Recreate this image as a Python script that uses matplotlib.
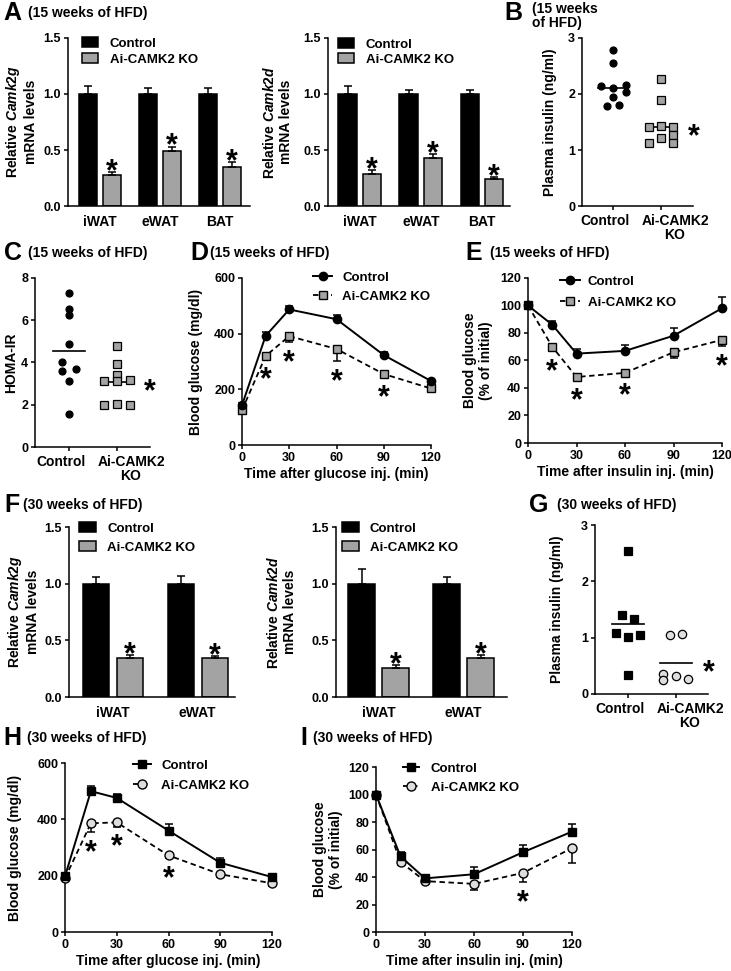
import numpy as np
import matplotlib
matplotlib.use("Agg")
import matplotlib.pyplot as plt
import matplotlib.transforms as mtransforms

plt.rcParams["font.family"] = ["Liberation Sans", "DejaVu Sans"]
plt.rcParams["font.weight"] = "bold"
plt.rcParams["axes.labelweight"] = "bold"
plt.rcParams["mathtext.fontset"] = "custom"
plt.rcParams["mathtext.rm"] = "Liberation Sans:bold"
plt.rcParams["mathtext.it"] = "Liberation Sans:italic:bold"
plt.rcParams["mathtext.bf"] = "Liberation Sans:bold"

W, H, DPI = 731, 971, 100
GRAY = "#a3a3a3"
LIGHT = "#dedede"

# ---------------- data ----------------
tissues_15 = ["iWAT", "eWAT", "BAT"]
camk2g_ctrl_15 = [1.0, 1.0, 1.0]
camk2g_ctrl_15_err = [0.07, 0.05, 0.05]
camk2g_ko_15 = [0.28, 0.49, 0.35]
camk2g_ko_15_err = [0.02, 0.04, 0.04]
camk2d_ctrl_15 = [1.0, 1.0, 1.0]
camk2d_ctrl_15_err = [0.07, 0.04, 0.04]
camk2d_ko_15 = [0.29, 0.43, 0.24]
camk2d_ko_15_err = [0.03, 0.03, 0.02]

# dot plots: values + column slot of each dot
insulin_ctrl_15 = [2.78, 2.56, 2.15, 2.11, 2.16, 2.03, 1.95, 1.79, 1.81]
insulin_ctrl_15_slot = [0, 0, -2, 0, 2, 2, 0, -1, 1]
insulin_ko_15 = [2.27, 1.90, 1.41, 1.43, 1.41, 1.27, 1.13, 1.21, 1.13]
insulin_ko_15_slot = [0, 0, -2, 0, 2, 2, -2, 0, 2]

homa_ctrl = [7.27, 6.55, 6.24, 4.89, 4.03, 3.62, 3.70, 3.14, 1.56]
homa_ctrl_slot = [0, 0, 0, 0, -1, -1, 1, 0, 0]
homa_ko = [4.78, 3.94, 3.40, 3.11, 3.11, 3.19, 2.00, 2.05, 2.00]
homa_ko_slot = [0, 0, 0, -2, 0, 2, -2, 0, 2]

time_min = [0, 15, 30, 60, 90, 120]
gtt15_ctrl = [143, 392, 487, 452, 323, 230]
gtt15_ctrl_err = [8, 14, 12, 14, 10, 7]
gtt15_ko = [125, 320, 391, 345, 255, 203]
gtt15_ko_err = [8, 12, 20, 45, 10, 8]
gtt15_sig = [15, 30, 60, 90]

itt15_ctrl = [100, 86, 65, 67, 78, 98]
itt15_ctrl_err = [0, 2.4, 3.6, 4.4, 5.3, 8]
itt15_ko = [100, 70, 48, 51, 66, 75]
itt15_ko_err = [0, 3, 2, 2, 4.4, 4.8]
itt15_sig = [15, 30, 60, 120]

tissues_30 = ["iWAT", "eWAT"]
camk2g_ctrl_30 = [1.0, 1.0]
camk2g_ctrl_30_err = [0.06, 0.07]
camk2g_ko_30 = [0.34, 0.34]
camk2g_ko_30_err = [0.03, 0.02]
camk2d_ctrl_30 = [1.0, 1.0]
camk2d_ctrl_30_err = [0.13, 0.06]
camk2d_ko_30 = [0.26, 0.34]
camk2d_ko_30_err = [0.02, 0.03]

insulin_ctrl_30 = [2.53, 1.40, 1.33, 1.08, 1.02, 1.05, 0.33]
insulin_ctrl_30_slot = [0, -1, 1, -2, 0, 2, 0]
insulin_ko_30 = [1.05, 1.06, 0.35, 0.24, 0.32, 0.26]
insulin_ko_30_slot = [-1, 1, -2, -2, 0, 2]

gtt30_ctrl = [198, 500, 476, 360, 246, 195]
gtt30_ctrl_err = [8, 20, 15, 24, 15, 8]
gtt30_ko = [191, 386, 389, 272, 205, 173]
gtt30_ko_err = [8, 30, 15, 10, 8, 8]
gtt30_sig = [15, 30, 60]

itt30_ctrl = [100, 55, 39, 42, 58, 73]
itt30_ctrl_err = [0, 3, 2, 5, 5, 5.5]
itt30_ko = [100, 51, 37, 35, 43, 61]
itt30_ko_err = [0, 2.4, 1, 4.5, 6.5, 10.5]
itt30_sig = [90]

group_labels = ["Control", "Ai-CAMK2\nKO"]

# ---------------- helpers ----------------
fig = plt.figure(figsize=(W / DPI, H / DPI), dpi=DPI)


def add_ax(l, t, r, b):
    ax = fig.add_axes([l / W, 1 - b / H, (r - l) / W, (b - t) / H])
    for s in ("top", "right"):
        ax.spines[s].set_visible(False)
    for s in ("left", "bottom"):
        ax.spines[s].set_linewidth(1.1)
    ax.tick_params(width=1.1, length=3, labelsize=9, pad=2)
    return ax


def ylab(ax, text, x_px):
    ax.set_ylabel(text, fontsize=10)
    tr = mtransforms.blended_transform_factory(fig.transFigure, ax.transAxes)
    ax.yaxis.set_label_coords(x_px / W, 0.5, transform=tr)


STAR_FS = 22


def star(ax, x, y, dy_px):
    off = dy_px * 72 / DPI - 0.59 * STAR_FS
    ax.annotate("*", (x, y), xytext=(0, off), textcoords="offset points",
                ha="center", va="baseline", fontsize=STAR_FS, annotation_clip=False)


LEG_FS = 9.5


def legend(ax, handles, x_px, y1, y2, hl, htp, hh=0.7):
    fs_px = LEG_FS * DPI / 72
    spacing = (y2 - y1 - 1.15 * fs_px) / fs_px
    ax.legend(handles=handles, loc="center left",
              bbox_to_anchor=(x_px / W, 1 - (y1 + y2) / 2 / H),
              bbox_transform=fig.transFigure, frameon=False, fontsize=LEG_FS,
              borderpad=0, borderaxespad=0, handlelength=hl, handletextpad=htp,
              handleheight=hh, labelspacing=spacing, numpoints=1)


def bar_panel(ax, cats, ctrl, ctrl_err, ko, ko_err, width, off):
    x = np.arange(len(cats))
    zeros = np.zeros(len(cats))
    b1 = ax.bar(x - off, ctrl, width, color="black", edgecolor="black", linewidth=1.1, label="Control")
    b2 = ax.bar(x + off, ko, width, color=GRAY, edgecolor="black", linewidth=1.1, label="Ai-CAMK2 KO")
    for xs, v, e in ((x - off, ctrl, ctrl_err), (x + off, ko, ko_err)):
        ax.errorbar(xs, v, yerr=[zeros, e], fmt="none", ecolor="black",
                    elinewidth=1.1, capsize=3.2, capthick=1.1)
    for xi, v, e in zip(x + off, ko, ko_err):
        star(ax, xi, v + e, 10)
    ax.set_xticks(x, cats, fontsize=10)
    ax.tick_params(axis="x", length=0, pad=6.5)
    ax.set_ylim(0, 1.5)
    ax.set_yticks([0, 0.5, 1.0, 1.5], ["0.0", "0.5", "1.0", "1.5"])
    return [b1, b2]


def dot_panel(ax, groups, center, xlim, slot_w=0.13, half=0.32):
    for i, (vals, slots, marker, face, ms) in enumerate(groups):
        vals = np.asarray(vals)
        xs = i + np.asarray(slots) * slot_w
        c = np.median(vals) if center == "median" else np.mean(vals)
        ax.plot([i - half, i + half], [c, c], color="black", lw=1.2, zorder=2)
        ax.plot(xs, vals, ls="none", marker=marker, ms=ms, mfc=face, mec="black",
                mew=0.9, zorder=3, clip_on=False)
    star(ax, 1.69, c, 0)
    ax.set_xlim(*xlim)
    ax.set_xticks([0, 1], group_labels, fontsize=10, linespacing=1.05)
    ax.tick_params(axis="x", pad=2.5)
    # the group labels sit a little apart from their ticks in the original
    for lbl, dx in zip(ax.get_xticklabels(), (-8, 14)):
        lbl.set_transform(lbl.get_transform() +
                          mtransforms.ScaledTranslation(dx / DPI, 0, fig.dpi_scale_trans))


def line_panel(ax, t, ctrl, ctrl_err, ko, ko_err, sig, mk_c, mk_k, face_k, ms_c, ms_k, ymax, ystep):
    t = np.asarray(t)
    zeros = np.zeros(len(t))
    ax.errorbar(t, ctrl, yerr=[zeros, ctrl_err], fmt="none", ecolor="black",
                elinewidth=1.1, capsize=3, capthick=1.1, zorder=2, clip_on=False)
    ax.errorbar(t, ko, yerr=[ko_err, zeros], fmt="none", ecolor="black",
                elinewidth=1.1, capsize=3, capthick=1.1, zorder=2, clip_on=False)
    l1, = ax.plot(t, ctrl, "-", color="black", lw=1.4, marker=mk_c, ms=ms_c, mfc="black",
                  mec="black", zorder=4, clip_on=False, label="Control")
    l2, = ax.plot(t, ko, color="black", lw=1.3, ls=(0, (3, 2)), marker=mk_k, ms=ms_k,
                  mfc=face_k, mec="black", mew=1, zorder=3, clip_on=False, label="Ai-CAMK2 KO")
    for ts in sig:
        i = list(t).index(ts)
        star(ax, t[i], ko[i] - ko_err[i], -11)
    ax.set_xlim(0, 120)
    ax.set_xticks(range(0, 121, 30))
    ax.set_ylim(0, ymax)
    ax.set_yticks(np.arange(0, ymax + 1, ystep))
    return [l1, l2]


def panel_title(letter, lx, tx, y, text):
    fig.text(lx / W, 1 - y / H, letter, fontsize=18, fontweight="bold", va="center", ha="left")
    fig.text(tx / W, 1 - y / H, text, fontsize=10, fontweight="bold", va="center", ha="left",
             linespacing=1.0)


# ---------------- A ----------------
ax = add_ax(68, 38, 250, 206)
h = bar_panel(ax, tissues_15, camk2g_ctrl_15, camk2g_ctrl_15_err, camk2g_ko_15, camk2g_ko_15_err, 0.3, 0.2)
ax.set_xlim(-0.53, 2.5)
ylab(ax, "Relative $\\mathit{Camk2g}$\nmRNA levels", 38)
legend(ax, h, 82, 42, 61, 1.25, 0.85)

ax = add_ax(328, 38, 510, 206)
h = bar_panel(ax, tissues_15, camk2d_ctrl_15, camk2d_ctrl_15_err, camk2d_ko_15, camk2d_ko_15_err, 0.3, 0.2)
ax.set_xlim(-0.52, 2.46)
ylab(ax, "Relative $\\mathit{Camk2d}$\nmRNA levels", 293)
legend(ax, h, 338, 43, 61, 1.25, 0.85)

# ---------------- B ----------------
ax = add_ax(582, 38, 693, 206)
dot_panel(ax, [(insulin_ctrl_15, insulin_ctrl_15_slot, "o", "black", 5),
               (insulin_ko_15, insulin_ko_15_slot, "s", GRAY, 5.5)], "median", (-0.65, 1.67))
ax.set_ylim(0, 3)
ax.set_yticks([0, 1, 2, 3])
ylab(ax, "Plasma insulin (ng/ml)", 557)

# ---------------- C ----------------
ax = add_ax(35, 278, 150, 447)
dot_panel(ax, [(homa_ctrl, homa_ctrl_slot, "o", "black", 5),
               (homa_ko, homa_ko_slot, "s", GRAY, 5.5)], "mean", (-0.71, 1.69), slot_w=0.14, half=0.33)
ax.set_ylim(0, 8)
ax.set_yticks([0, 2, 4, 6, 8])
ylab(ax, "HOMA-IR", 18)

# ---------------- D ----------------
ax = add_ax(242, 278, 431, 445)
h = line_panel(ax, time_min, gtt15_ctrl, gtt15_ctrl_err, gtt15_ko, gtt15_ko_err, gtt15_sig,
               "o", "s", GRAY, 6, 6, 600, 200)
ax.set_xlabel("Time after glucose inj. (min)", fontsize=10, labelpad=2.5)
ylab(ax, "Blood glucose (mg/dl)", 203)
legend(ax, h, 313, 276, 298, 1.45, 0.75)

# ---------------- E ----------------
ax = add_ax(528, 278, 722, 443)
h = line_panel(ax, time_min, itt15_ctrl, itt15_ctrl_err, itt15_ko, itt15_ko_err, itt15_sig,
               "o", "s", GRAY, 6, 6, 120, 20)
ax.set_xlabel("Time after insulin inj. (min)", fontsize=10, labelpad=2.5)
ylab(ax, "Blood glucose\n(% of initial)", 493)
legend(ax, h, 560, 280, 304, 1.5, 0.6)

# ---------------- F ----------------
ax = add_ax(69, 527, 235, 697)
h = bar_panel(ax, tissues_30, camk2g_ctrl_30, camk2g_ctrl_30_err, camk2g_ko_30, camk2g_ko_30_err, 0.31, 0.2)
ax.set_xlim(-0.52, 1.44)
ylab(ax, "Relative $\\mathit{Camk2g}$\nmRNA levels", 40)
legend(ax, h, 79, 527, 549, 1.3, 0.85)

ax = add_ax(336, 527, 507, 697)
h = bar_panel(ax, tissues_30, camk2d_ctrl_30, camk2d_ctrl_30_err, camk2d_ko_30, camk2d_ko_30_err, 0.31, 0.2)
ax.set_xlim(-0.5, 1.51)
ylab(ax, "Relative $\\mathit{Camk2d}$\nmRNA levels", 297)
legend(ax, h, 342, 527, 549, 1.3, 0.8)

# ---------------- G ----------------
ax = add_ax(595, 525, 708, 694)
dot_panel(ax, [(insulin_ctrl_30, insulin_ctrl_30_slot, "s", "black", 5.5),
               (insulin_ko_30, insulin_ko_30_slot, "o", LIGHT, 6)], "mean", (-0.69, 1.67), half=0.33)
ax.set_ylim(0, 3)
ax.set_yticks([0, 1, 2, 3])
ylab(ax, "Plasma insulin (ng/ml)", 564)

# ---------------- H ----------------
ax = add_ax(65, 763, 272, 932)
h = line_panel(ax, time_min, gtt30_ctrl, gtt30_ctrl_err, gtt30_ko, gtt30_ko_err, gtt30_sig,
               "s", "o", LIGHT, 6, 6.5, 600, 200)
ax.set_xlabel("Time after glucose inj. (min)", fontsize=10, labelpad=2.5)
ylab(ax, "Blood glucose (mg/dl)", 22)
legend(ax, h, 133, 764, 787, 1.4, 0.75)

# ---------------- I ----------------
ax = add_ax(376, 767, 572, 932)
h = line_panel(ax, time_min, itt30_ctrl, itt30_ctrl_err, itt30_ko, itt30_ko_err, itt30_sig,
               "s", "o", LIGHT, 6, 6.5, 120, 20)
ax.set_xlabel("Time after insulin inj. (min)", fontsize=10, labelpad=2.5)
ylab(ax, "Blood glucose\n(% of initial)", 343)
legend(ax, h, 403, 767, 789, 1.2, 0.9)

# ---------------- panel titles ----------------
panel_title("A", 3, 28, 13, "(15 weeks of HFD)")
panel_title("B", 504, 532, 13, "")
fig.text(532 / W, 1 - 16 / H, "(15 weeks\nof HFD)", fontsize=10, fontweight="bold",
         va="center", ha="left", linespacing=1.05)
panel_title("C", 4, 28, 253, "(15 weeks of HFD)")
panel_title("D", 190, 210, 253, "(15 weeks of HFD)")
panel_title("E", 465, 490, 253, "(15 weeks of HFD)")
panel_title("F", 4, 23, 505, "(30 weeks of HFD)")
panel_title("G", 529, 557, 505, "(30 weeks of HFD)")
panel_title("H", 3, 27, 738, "(30 weeks of HFD)")
panel_title("I", 300, 313, 738, "(30 weeks of HFD)")

fig.savefig("out.png", dpi=DPI)
